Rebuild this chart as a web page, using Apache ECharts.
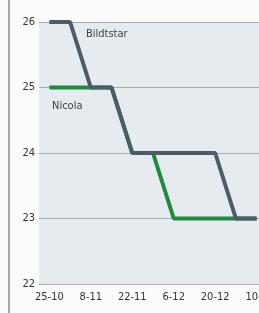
<!DOCTYPE html>
<html>
<head>
<meta charset="utf-8">
<script src="https://cdn.jsdelivr.net/npm/echarts@6/dist/echarts.min.js"></script>
<style>
  html, body { margin: 0; padding: 0; background: #fbfbfb; }
  #main { width: 259px; height: 313px; }
</style>
</head>
<body>
<div id="main"></div>
<script>
  // weekly dates, label shown every other week
  var weeks = ['25-10', '1-11', '8-11', '15-11', '22-11', '29-11', '6-12', '13-12', '20-12', '3-1', '10-1'];
  var nicola = [25, 25, 25, 25, 24, 24, 23, 23, 23, 23, 23];
  var bildtstar = [26, 26, 25, 25, 24, 24, 24, 24, 24, 23, 23];
  var yTicks = [22, 23, 24, 25, 26];

  var narrow = '"DejaVu Sans Condensed", "Liberation Sans Narrow", sans-serif';

  var myChart = echarts.init(document.getElementById('main'));
  var option = {
    animation: false,
    backgroundColor: '#fbfbfb',
    grid: {
      left: 39, width: 228, top: 22, height: 262,
      outerBoundsMode: 'none',
      show: true, backgroundColor: '#e6ebf0', borderWidth: 0
    },
    xAxis: {
      type: 'category',
      data: weeks,
      boundaryGap: true,
      axisLine: { lineStyle: { color: '#a9b2bb', width: 1 } },
      axisTick: { alignWithLabel: true, interval: 0, length: 3, lineStyle: { color: '#a9b2bb' } },
      axisLabel: { interval: 1, color: '#333', fontSize: 11, fontFamily: narrow, margin: 8 }
    },
    yAxis: {
      type: 'value',
      min: yTicks[0],
      max: yTicks[yTicks.length - 1],
      interval: 1,
      axisLine: { show: false },
      axisTick: { show: false },
      axisLabel: { color: '#333', fontSize: 11, fontFamily: narrow, margin: 4 },
      splitLine: { lineStyle: { color: '#a3adb7', width: 1 } }
    },
    series: [
      {
        name: 'Nicola',
        type: 'line',
        data: nicola,
        symbol: 'none',
        lineStyle: { color: '#1e8c3f', width: 4 }
      },
      {
        name: 'Bildtstar',
        type: 'line',
        data: bildtstar,
        symbol: 'none',
        lineStyle: { color: '#4e5b68', width: 4 }
      }
    ],
    graphic: [
      {
        type: 'line',
        shape: { x1: 9, y1: 0, x2: 9, y2: 313 },
        style: { stroke: '#8c8c8c', lineWidth: 1.5 }
      },
      {
        type: 'text', left: 86, top: 29,
        style: { text: 'Bildtstar', fill: '#3a4148', fontSize: 11, fontFamily: narrow }
      },
      {
        type: 'text', left: 52, top: 101,
        style: { text: 'Nicola', fill: '#3a4148', fontSize: 11, fontFamily: narrow }
      }
    ]
  };
  myChart.setOption(option);
</script>
</body>
</html>
